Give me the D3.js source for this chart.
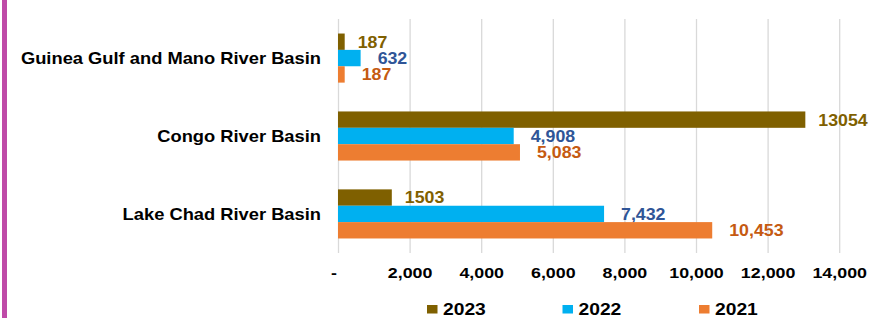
<!DOCTYPE html>
<html>
<head>
<meta charset="utf-8">
<script src="https://cdn.jsdelivr.net/npm/d3@7"></script>
<style>
  body { margin: 0; background: #fff; }
  text { font-family: "Liberation Sans", Arial, sans-serif; font-weight: bold; }
</style>
</head>
<body>
<div id="chart_div"></div>
<script>
const categories = ["Guinea Gulf and Mano River Basin", "Congo River Basin", "Lake Chad River Basin"];
const years = ["2023", "2022", "2021"];
const values2023 = [187, 13054, 1503];
const values2022 = [632, 4908, 7432];
const values2021 = [187, 5083, 10453];
const xTicks = [0, 2000, 4000, 6000, 8000, 10000, 12000, 14000];

const barColors = {"2023": "#7f6000", "2022": "#00b0f0", "2021": "#ed7d31"};
const labelColors = {"2023": "#7f6000", "2022": "#2f5597", "2021": "#c55a11"};

const width = 870, height = 318;
const plotTop = 19, plotBottom = 253;

const svg = d3.select("#chart_div")
    .append("svg")
    .attr("width", width)
    .attr("height", height);

// purple side bar
svg.append("rect")
    .attr("x", 2).attr("y", 0)
    .attr("width", 5).attr("height", height)
    .attr("fill", "#bf4aa8");

let xScale = d3.scaleLinear()
    .domain([0, 14000])
    .range([338, 839.2]);

let yScale = d3.scaleBand()
    .domain(categories)
    .range([19.5, 252.5])
    .paddingInner(0.37)
    .paddingOuter(0.18);

let yInner = d3.scaleBand()
    .domain(years)
    .range([0, yScale.bandwidth()]);

// gridlines
svg.append("g")
    .attr("transform", "translate(0," + plotTop + ")")
    .call(d3.axisBottom(xScale)
        .tickValues(xTicks)
        .tickSize(plotBottom - plotTop)
        .tickFormat(""))
    .call(g => g.select(".domain").remove())
    .call(g => g.selectAll("line").attr("stroke", "#d9d9d9").attr("stroke-width", 1.3));

// x tick labels
svg.append("g")
    .attr("transform", "translate(0," + plotBottom + ")")
    .call(d3.axisBottom(xScale)
        .tickValues(xTicks)
        .tickSize(0)
        .tickFormat(d => d === 0 ? "-" : d3.format(",")(d)))
    .call(g => g.select(".domain").remove())
    .call(g => g.selectAll("text")
        .attr("y", 25).attr("dy", 0)
        .attr("x", d => d === 0 ? -4 : 0)
        .attr("fill", "#000")
        .style("font-size", "15.5px")
        .attr("transform", "scale(1.15,1)"));

// category labels
svg.append("g")
    .selectAll("text")
    .data(categories)
    .join("text")
    .attr("transform", d => "translate(321," + (yScale(d) + yScale.bandwidth() / 2) + ") scale(1.11,1)")
    .attr("text-anchor", "end")
    .attr("dy", "0.36em")
    .style("font-size", "16.5px")
    .attr("fill", "#000")
    .text(d => d);

const seriesByYear = {"2023": values2023, "2022": values2022, "2021": values2021};

years.forEach(function(year) {
    const vals = seriesByYear[year];
    const rows = categories.map((c, i) => ({cat: c, value: vals[i]}));
    const g = svg.append("g");

    g.selectAll("rect")
        .data(rows)
        .join("rect")
        .attr("x", xScale(0))
        .attr("y", d => yScale(d.cat) + yInner(year))
        .attr("width", d => xScale(d.value) - xScale(0))
        .attr("height", yInner.bandwidth())
        .attr("fill", barColors[year]);

    const offset = year === "2023" ? 13 : 17;
    const fmt = year === "2023" ? (d => String(d)) : d3.format(",");

    g.selectAll("text")
        .data(rows)
        .join("text")
        .attr("transform", d => "translate(" + (xScale(d.value) + offset) + "," +
            (yScale(d.cat) + yInner(year) + yInner.bandwidth() / 2) + ") scale(1.09,1)")
        .attr("dy", "0.36em")
        .style("font-size", "16.3px")
        .attr("fill", labelColors[year])
        .text(d => fmt(d.value));
});

// legend (kept just inside the bottom edge)
const legendX = [427, 562.5, 699];
const legend = svg.append("g")
    .selectAll("g")
    .data(years)
    .join("g")
    .attr("transform", (d, i) => "translate(" + legendX[i] + ",0)");

legend.append("rect")
    .attr("x", 0).attr("y", 305)
    .attr("width", 10.5).attr("height", 8.5)
    .attr("fill", d => barColors[d]);

legend.append("text")
    .attr("transform", "translate(16,314.5) scale(1.12,1)")
    .style("font-size", "17.2px")
    .attr("fill", "#000")
    .text(d => d);
</script>
</body>
</html>
